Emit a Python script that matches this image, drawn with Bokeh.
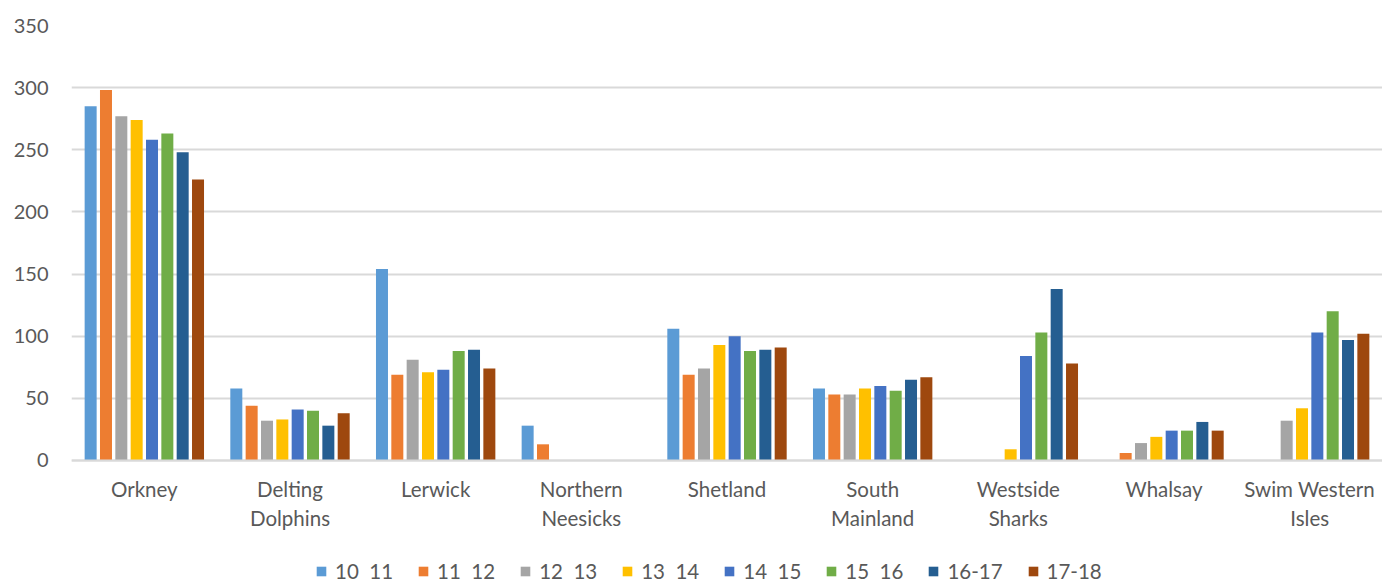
import numpy as np
from bokeh.plotting import figure
from bokeh.models import ColumnDataSource, FactorRange, Range1d, FixedTicker, Legend, LegendItem
from bokeh.transform import dodge
from bokeh.embed import file_html
from bokeh.resources import INLINE

nan = float("nan")

clubs = ["Orkney", "Delting\nDolphins", "Lerwick", "Northern\nNeesicks", "Shetland",
         "South\nMainland", "Westside\nSharks", "Whalsay", "Swim Western\nIsles"]
seasons = ["10  11", "11  12", "12  13", "13  14", "14  15", "15  16", "16-17", "17-18"]

s10_11 = [285, 58, 154, 28, 106, 58, nan, nan, nan]
s11_12 = [298, 44, 69, 13, 69, 53, nan, 6, nan]
s12_13 = [277, 32, 81, nan, 74, 53, nan, 14, 32]
s13_14 = [274, 33, 71, nan, 93, 58, 9, 19, 42]
s14_15 = [258, 41, 73, nan, 100, 60, 84, 24, 103]
s15_16 = [263, 40, 88, nan, 88, 56, 103, 24, 120]
s16_17 = [248, 28, 89, nan, 89, 65, 138, 31, 97]
s17_18 = [226, 38, 74, nan, 91, 67, 78, 24, 102]
y_ticks = [0, 50, 100, 150, 200, 250, 300, 350]

series = [s10_11, s11_12, s12_13, s13_14, s14_15, s15_16, s16_17, s17_18]
colors = ["#5B9BD5", "#ED7D31", "#A5A5A5", "#FFC000", "#4472C4", "#70AD47", "#255E91", "#9E480E"]

data = {"club": clubs}
for j, s in enumerate(series):
    data["s%d" % j] = s
source = ColumnDataSource(data)

FONT = "Lato"
TXT = "#595959"
GRID = "#D9D9D9"

p = figure(width=1382, height=583, output_backend="svg", toolbar_location=None,
           x_range=FactorRange(*clubs, range_padding=0, factor_padding=0),
           y_range=Range1d(-99, 350),
           min_border_left=71, min_border_right=0, min_border_top=25, min_border_bottom=0)
p.outline_line_color = None

stride = 0.1053
bw = 0.0824
items = []
for j in range(len(series)):
    r = p.vbar(x=dodge("club", (j - 3.5) * stride, range=p.x_range), top="s%d" % j,
               width=bw, source=source, fill_color=colors[j], line_color=None)
    items.append(LegendItem(label=seasons[j], renderers=[r]))

# axes
p.xaxis.fixed_location = 0
p.xaxis.axis_line_color = GRID
p.xaxis.axis_line_width = 2
p.xaxis.major_tick_line_color = None
p.xaxis.minor_tick_line_color = None
p.xaxis.major_tick_out = 0
p.xaxis.major_tick_in = 0
p.xaxis.major_label_text_font = FONT
p.xaxis.major_label_text_font_size = "20.5px"
p.xaxis.major_label_text_color = TXT
p.xaxis.major_label_standoff = 17

p.yaxis.ticker = FixedTicker(ticks=y_ticks)
p.yaxis.axis_line_color = None
p.yaxis.major_tick_line_color = None
p.yaxis.minor_tick_line_color = None
p.yaxis.major_tick_out = 0
p.yaxis.major_tick_in = 0
p.yaxis.major_label_text_font = FONT
p.yaxis.major_label_text_font_size = "20px"
p.yaxis.major_label_text_color = TXT
p.yaxis.major_label_standoff = 23

p.xgrid.grid_line_color = None
p.ygrid.ticker = FixedTicker(ticks=y_ticks)
p.ygrid.grid_line_color = GRID
p.ygrid.grid_line_width = 2

legend = Legend(items=items, orientation="horizontal", location=(244, 0),
                glyph_width=12, glyph_height=12, label_standoff=8, spacing=24,
                padding=0, margin=0, border_line_color=None, background_fill_alpha=0,
                label_text_font=FONT, label_text_font_size="20.5px", label_text_color=TXT)
p.add_layout(legend, "center")

open("out.html", "w").write(file_html(p, INLINE))
